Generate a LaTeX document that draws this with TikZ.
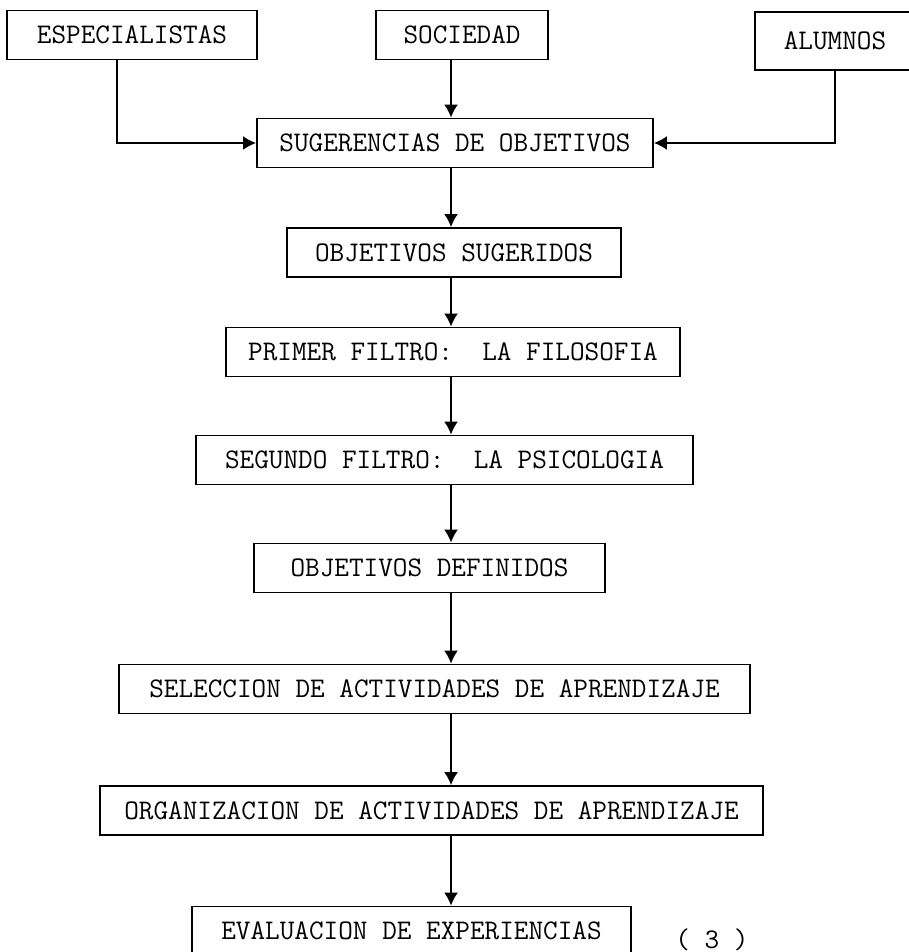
\documentclass[tikz,border=0pt]{standalone}
\usepackage{fontspec}
\usetikzlibrary{arrows.meta}

\begin{document}
\begin{tikzpicture}[
  x=0.5pt, y=-0.5pt,
  > = {Latex[length=6.5pt,width=7pt]},
  every node/.style = {font=\ttfamily\fontsize{14.2pt}{16pt}\selectfont},
  box/.style = {draw, line width=0.9pt, inner sep=0pt, minimum height=24.5pt},
  flow/.style = {->, line width=0.9pt}
  ]
	\useasboundingbox (0,0) rectangle (909,952);

	\coordinate (@axis) at (451,0);

	% fuentes de objetivos
	\node[box, minimum width=125pt] (esp) at (132,35) {ESPECIALISTAS};
	\node[box, minimum width=86pt] (soc) at (462,35) {SOCIEDAD};
	\node[box, minimum width=80pt, minimum height=29pt] (alu) at (835,41) {ALUMNOS};

	% secuencia
	\node[box, minimum width=198pt] (sug) at (455,143) {SUGERENCIAS DE OBJETIVOS};
	\node[box, minimum width=167pt] (objsug) at (454,252.5) {OBJETIVOS SUGERIDOS};
	\node[box, minimum width=227pt] (primer) at (453,352) {PRIMER FILTRO:~ LA FILOSOFIA};
	\node[box, minimum width=248.5pt] (segundo) at (444.5,460) {SEGUNDO FILTRO:~ LA PSICOLOGIA};
	\node[box, minimum width=175.5pt] (objdef) at (429.5,568) {OBJETIVOS DEFINIDOS};
	\node[box, minimum width=315.5pt] (selec) at (434.5,689) {SELECCION DE ACTIVIDADES DE APRENDIZAJE};
	\node[box, minimum width=331.5pt] (organ) at (431.5,810.5) {ORGANIZACION DE ACTIVIDADES DE APRENDIZAJE};
	\node[box, minimum width=219.5pt] (evalua) at (411.5,931) {EVALUACION DE EXPERIENCIAS};
	\node (pag) at (712,940) {( 3 )};

	\draw[flow] ([xshift=-7.5pt]esp.south) |- (sug.west);
	\draw[flow] (soc.south -| @axis) -- (sug.north -| @axis);
	\draw[flow] (alu.south) |- (sug.east);

	\draw[flow] (sug.south -| @axis) -- (objsug.north -| @axis);
	\draw[flow] (objsug.south -| @axis) -- (primer.north -| @axis);
	\draw[flow] (primer.south -| @axis) -- (segundo.north -| @axis);
	\draw[flow] (segundo.south -| @axis) -- (objdef.north -| @axis);
	\draw[flow] (objdef.south -| @axis) -- (selec.north -| @axis);
	\draw[flow] (selec.south -| @axis) -- (organ.north -| @axis);
	\draw[flow] (organ.south -| @axis) -- (evalua.north -| @axis);

\end{tikzpicture}
\end{document}
